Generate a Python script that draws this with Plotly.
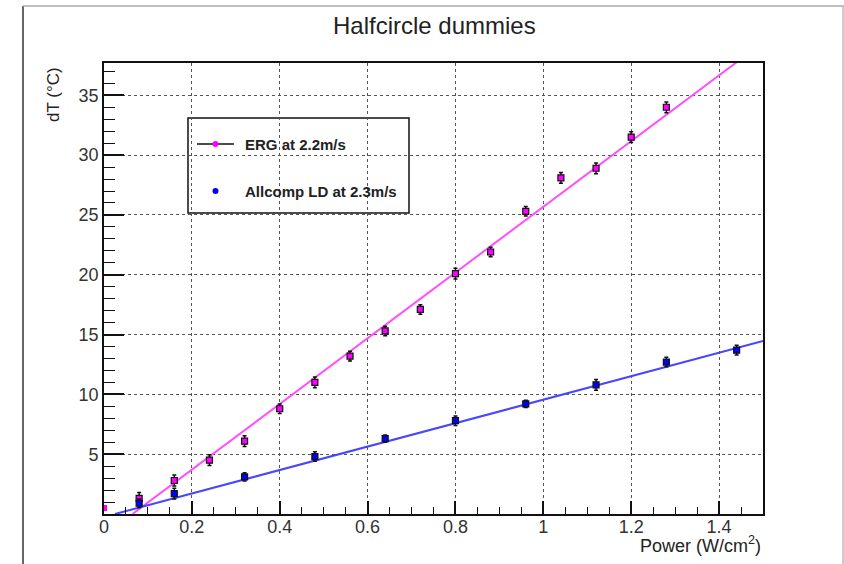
import plotly.graph_objects as go

# ---- data ----
erg_power = [0.0, 0.08, 0.16, 0.24, 0.32, 0.40, 0.48, 0.56, 0.64, 0.72, 0.80, 0.88, 0.96, 1.04, 1.12, 1.20, 1.28]
erg_dT    = [0.5, 1.3, 2.8, 4.5, 6.1, 8.8, 11.0, 13.2, 15.3, 17.1, 20.1, 21.9, 25.3, 28.1, 28.9, 31.5, 34.0]
erg_err   = [0.0, 0.5, 0.45, 0.45, 0.45, 0.4, 0.45, 0.4, 0.4, 0.4, 0.45, 0.4, 0.4, 0.45, 0.45, 0.45, 0.45]

ld_power = [0.08, 0.16, 0.32, 0.48, 0.64, 0.80, 0.96, 1.12, 1.28, 1.44]
ld_dT    = [0.9, 1.7, 3.1, 4.8, 6.3, 7.8, 9.2, 10.8, 12.7, 13.7]
ld_err   = [0.35, 0.45, 0.35, 0.4, 0.3, 0.4, 0.3, 0.45, 0.4, 0.4]

# linear fits (slope, intercept) and drawn x-ranges
erg_fit = (27.46, -1.78)
erg_fit_x = [0.065, 1.44]
ld_fit = (9.8, -0.245)
ld_fit_x = [0.025, 1.5]

x_ticks = [0, 0.2, 0.4, 0.6, 0.8, 1.0, 1.2, 1.4]
x_tick_labels = ["0", "0.2", "0.4", "0.6", "0.8", "1", "1.2", "1.4"]
y_ticks = [5, 10, 15, 20, 25, 30, 35]

MAGENTA = "#ff00ff"
BLUE = "#0000ff"
FONT = "Liberation Sans, Arial, sans-serif"

fig = go.Figure()

# fit lines
fig.add_trace(go.Scatter(x=erg_fit_x, y=[erg_fit[0] * x + erg_fit[1] for x in erg_fit_x],
                         mode="lines", line=dict(color="#ff4dff", width=2), showlegend=False,
                         hoverinfo="skip"))
fig.add_trace(go.Scatter(x=ld_fit_x, y=[ld_fit[0] * x + ld_fit[1] for x in ld_fit_x],
                         mode="lines", line=dict(color="#4646ff", width=2), showlegend=False,
                         hoverinfo="skip"))

# data points with error bars
erg_outline = [0 if e == 0 else 1.2 for e in erg_err]
fig.add_trace(go.Scatter(x=erg_power, y=erg_dT, mode="markers",
                         marker=dict(symbol="square", size=6, color=MAGENTA,
                                     line=dict(color="#111", width=erg_outline)),
                         error_y=dict(type="data", array=erg_err, visible=True,
                                      color="#111", thickness=1.5, width=2),
                         showlegend=False))
fig.add_trace(go.Scatter(x=ld_power, y=ld_dT, mode="markers",
                         marker=dict(symbol="square", size=6, color=BLUE,
                                     line=dict(color="#111", width=1.2)),
                         error_y=dict(type="data", array=ld_err, visible=True,
                                      color="#111", thickness=1.5, width=2),
                         showlegend=False))

W, H = 844, 564
L, R, T, B = 104, 763, 63, 514
pw, ph = R - L, B - T

def px(X):
    return (X - L) / pw

def py(Y):
    return (B - Y) / ph

shapes = []
# outer canvas border lines
shapes.append(dict(type="line", xref="paper", yref="paper", x0=px(23), x1=px(23), y0=py(6), y1=py(566),
                   line=dict(color="#666", width=2)))
shapes.append(dict(type="line", xref="paper", yref="paper", x0=px(23), x1=px(846), y0=py(6), y1=py(6),
                   line=dict(color="#aaa", width=1.5)))
shapes.append(dict(type="line", xref="paper", yref="paper", x0=px(843), x1=px(843), y0=py(6), y1=py(566),
                   line=dict(color="#bbb", width=1.5)))
# legend box
shapes.append(dict(type="rect", xref="paper", yref="paper", x0=px(188), x1=px(409), y0=py(213), y1=py(118),
                   line=dict(color="#111", width=1.5), fillcolor="white", layer="between"))
shapes.append(dict(type="line", xref="paper", yref="paper", x0=px(197), x1=px(234), y0=py(144), y1=py(144),
                   line=dict(color="#111", width=1.5), layer="between"))

annotations = [
    dict(text="Halfcircle dummies", xref="paper", yref="paper", x=px(434), y=py(25),
         showarrow=False, font=dict(family=FONT, size=24, color="#222"), xanchor="center", yanchor="middle"),
    dict(text="dT (°C)", xref="paper", yref="paper", x=px(54), y=py(95), textangle=-90,
         showarrow=False, font=dict(family=FONT, size=17, color="#222"), xanchor="center", yanchor="middle"),
    dict(text="Power (W/cm<sup>2</sup>)", xref="paper", yref="paper", x=1.0, y=py(544),
         showarrow=False, font=dict(family=FONT, size=18, color="#222"), xanchor="right", yanchor="middle"),
    dict(text="<b>ERG at 2.2m/s</b>", xref="paper", yref="paper", x=px(243), y=py(144),
         showarrow=False, font=dict(family=FONT, size=15, color="#222"), xanchor="left", yanchor="middle"),
    dict(text="<b>Allcomp LD at 2.3m/s</b>", xref="paper", yref="paper", x=px(243), y=py(191),
         showarrow=False, font=dict(family=FONT, size=15, color="#222"), xanchor="left", yanchor="middle"),
]

fig.update_layout(
    width=W, height=H,
    margin=dict(l=L, r=W - R, t=T, b=H - B, autoexpand=False),
    paper_bgcolor="white", plot_bgcolor="white",
    shapes=shapes, annotations=annotations,
    showlegend=False,
    xaxis=dict(range=[0, 1.5], tickvals=x_ticks, ticktext=x_tick_labels,
               ticks="inside", ticklen=13, tickwidth=1.5, tickcolor="#111",
               minor=dict(dtick=0.05, ticks="inside", ticklen=7, tickwidth=1.2, tickcolor="#111", showgrid=False),
               showgrid=True, gridcolor="#555", griddash="dot", gridwidth=1,
               showline=True, linecolor="#111", linewidth=1.5, mirror=True,
               zeroline=False, automargin=False, ticklabelstandoff=-4,
               tickfont=dict(family=FONT, size=18, color="#333")),
    yaxis=dict(range=[0, 37.7], tickvals=y_ticks,
               ticks="inside", ticklen=20, tickwidth=1.5, tickcolor="#111",
               minor=dict(dtick=1, ticks="inside", ticklen=11, tickwidth=1.2, tickcolor="#111", showgrid=False),
               showgrid=True, gridcolor="#555", griddash="dot", gridwidth=1,
               showline=True, linecolor="#111", linewidth=1.8, mirror=True,
               zeroline=False, automargin=False,
               tickfont=dict(family=FONT, size=18, color="#333")),
)

# legend markers
fig.add_trace(go.Scatter(x=[px(215.5), px(215.5)], y=[py(144), py(191)], xaxis="x2", yaxis="y2",
                         mode="markers", marker=dict(size=6, color=[MAGENTA, BLUE]),
                         showlegend=False, hoverinfo="skip"))
fig.update_layout(
    xaxis2=dict(overlaying="x", range=[0, 1], visible=False, anchor="y2"),
    yaxis2=dict(overlaying="y", range=[0, 1], visible=False, anchor="x2"),
)

fig.write_html("out.html", post_script="document.body.style.margin='0';",
               config={"displayModeBar": False})
